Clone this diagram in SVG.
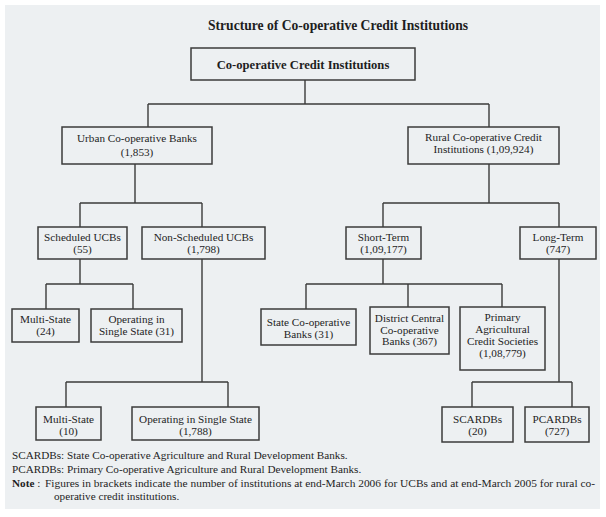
<svg xmlns="http://www.w3.org/2000/svg" width="606" height="517" viewBox="0 0 606 517">
<style>
.box{fill:none;stroke:#3b3b3b;stroke-width:1.5}
.t{font-family:"Liberation Serif","DejaVu Serif",serif;font-size:11.2px;fill:#1e1e1e;text-anchor:middle}
.f{font-family:"Liberation Serif","DejaVu Serif",serif;font-size:11.2px;fill:#1e1e1e}
#connectors path{fill:none;stroke:#3b3b3b;stroke-width:1.4}
</style>
<rect x="0" y="0" width="606" height="517" fill="#ffffff"/>
<rect x="5" y="5" width="595" height="504" fill="#edf0f2"/>
<text x="338" y="30" font-family="Liberation Serif, serif" font-size="13.6" font-weight="bold" fill="#1e1e1e" text-anchor="middle">Structure of Co-operative Credit Institutions</text>

<g id="connectors">
<path d="M305 80V104M148 104H489M148 104V127M489 104V127"/>
<path d="M135 164V203M80 203H202M80 203V227M202 203V227"/>
<path d="M80 259V284M46 284H133M46 284V309M133 284V309"/>
<path d="M202 259V382M66 382H228M66 382V407M228 382V407"/>
<path d="M489 164V203M383 203H559M383 203V227M559 203V227"/>
<path d="M383 259V284M306 284H502M306 284V309M408 284V307M502 284V307"/>
<path d="M559 259V382M472 382H572M472 382V407M572 382V407"/>
</g>

<g id="n-cci">
<rect class="box" x="191" y="48" width="224" height="32"/>
<text class="t" x="303" y="68.5" style="font-weight:bold;font-size:12.6px">Co-operative Credit Institutions</text>
</g>
<g id="n-ucb">
<rect class="box" x="62" y="127" width="150" height="37"/>
<text class="t" x="137" y="142">Urban Co-operative Banks</text>
<text class="t" x="137" y="156">(1,853)</text>
</g>
<g id="n-rcci">
<rect class="box" x="408" y="127" width="151" height="37"/>
<text class="t" x="483.5" y="141">Rural Co-operative  Credit</text>
<text class="t" x="483.5" y="153">Institutions  (1,09,924)</text>
</g>
<g id="n-sched">
<rect class="box" x="38" y="227" width="89" height="32"/>
<text class="t" x="82.5" y="241">Scheduled UCBs</text>
<text class="t" x="82.5" y="252.5">(55)</text>
</g>
<g id="n-nonsched">
<rect class="box" x="142" y="227" width="123" height="32"/>
<text class="t" x="203.5" y="241">Non-Scheduled UCBs</text>
<text class="t" x="203.5" y="252.5">(1,798)</text>
</g>
<g id="n-short">
<rect class="box" x="346" y="227" width="75" height="32"/>
<text class="t" x="383.5" y="241">Short-Term</text>
<text class="t" x="383.5" y="252.5">(1,09,177)</text>
</g>
<g id="n-long">
<rect class="box" x="520" y="227" width="76" height="32"/>
<text class="t" x="558" y="241">Long-Term</text>
<text class="t" x="558" y="252.5">(747)</text>
</g>
<g id="n-ms24">
<rect class="box" x="12" y="309" width="67" height="33"/>
<text class="t" x="45.5" y="323">Multi-State</text>
<text class="t" x="45.5" y="334.5">(24)</text>
</g>
<g id="n-oss31">
<rect class="box" x="91" y="309" width="91" height="33"/>
<text class="t" x="136.5" y="323">Operating in</text>
<text class="t" x="136.5" y="334.5">Single State (31)</text>
</g>
<g id="n-stcb">
<rect class="box" x="261" y="309" width="95" height="36"/>
<text class="t" x="308.5" y="326">State Co-operative</text>
<text class="t" x="308.5" y="337.5">Banks (31)</text>
</g>
<g id="n-dccb">
<rect class="box" x="370" y="307" width="79" height="47"/>
<text class="t" x="409.5" y="322">District Central</text>
<text class="t" x="409.5" y="333.5">Co-operative</text>
<text class="t" x="409.5" y="345">Banks (367)</text>
</g>
<g id="n-pacs">
<rect class="box" x="460" y="307" width="85" height="63"/>
<text class="t" x="502.5" y="321">Primary</text>
<text class="t" x="502.5" y="333">Agricultural</text>
<text class="t" x="502.5" y="345">Credit Societies</text>
<text class="t" x="502.5" y="357">(1,08,779)</text>
</g>
<g id="n-ms10">
<rect class="box" x="36" y="407" width="65" height="33"/>
<text class="t" x="68.5" y="423">Multi-State</text>
<text class="t" x="68.5" y="435">(10)</text>
</g>
<g id="n-oss1788">
<rect class="box" x="132" y="407" width="127" height="33"/>
<text class="t" x="195.5" y="423">Operating in Single State</text>
<text class="t" x="195.5" y="435">(1,788)</text>
</g>
<g id="n-scardb">
<rect class="box" x="442" y="407" width="71" height="35"/>
<text class="t" x="477.5" y="423">SCARDBs</text>
<text class="t" x="477.5" y="435">(20)</text>
</g>
<g id="n-pcardb">
<rect class="box" x="525" y="407" width="64" height="35"/>
<text class="t" x="557" y="423">PCARDBs</text>
<text class="t" x="557" y="435">(727)</text>
</g>

<g id="footer">
<text class="f" x="12" y="459">SCARDBs: State Co-operative Agriculture and Rural Development Banks.</text>
<text class="f" x="12" y="473">PCARDBs: Primary Co-operative Agriculture and Rural Development Banks.</text>
<text class="f" x="12" y="487"><tspan font-weight="bold">Note</tspan> : </text>
<text class="f" x="45" y="487" textLength="550" lengthAdjust="spacingAndGlyphs">Figures in brackets indicate the number of institutions at end-March 2006 for UCBs and at end-March 2005 for rural co-</text>
<text class="f" x="54" y="500">operative credit institutions.</text>
</g>
</svg>
